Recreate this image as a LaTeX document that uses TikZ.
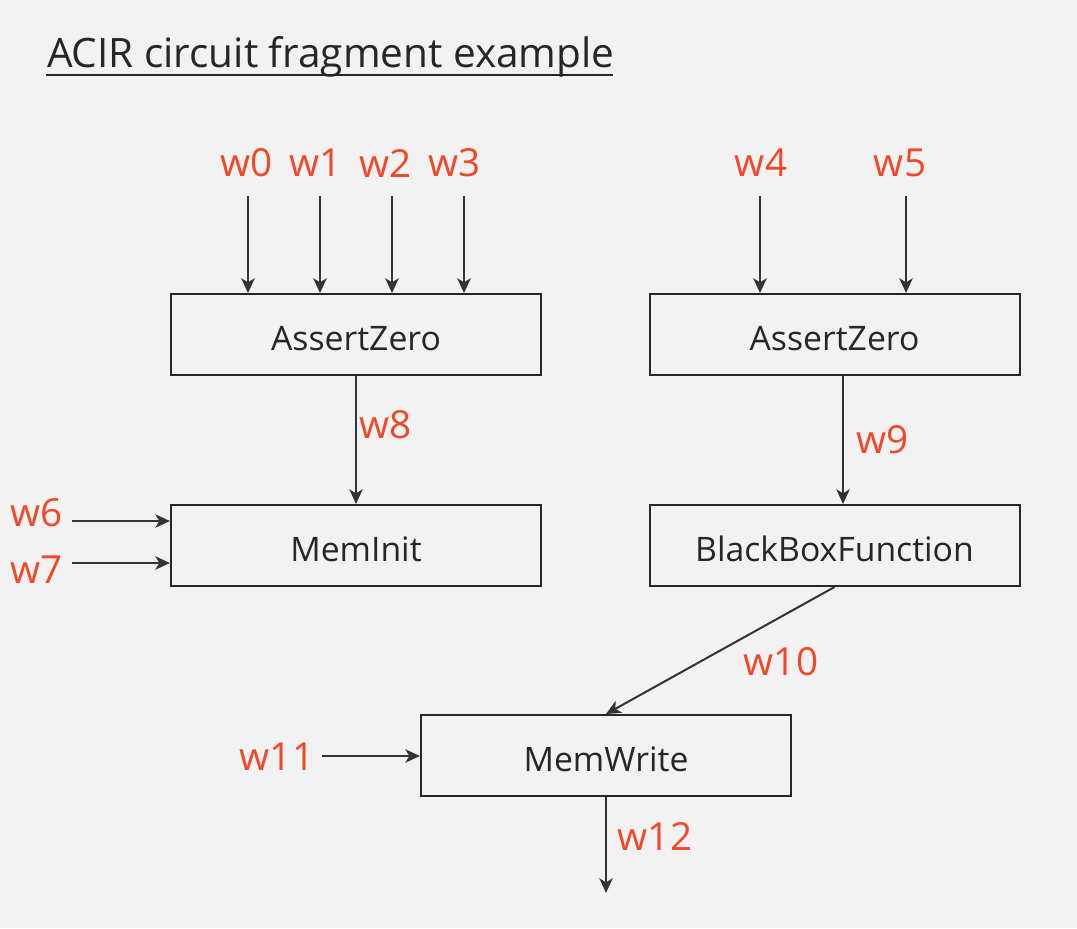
\documentclass[tikz,border=0pt]{standalone}
\usepackage{fontspec}
\setmainfont{Open Sans}
\usetikzlibrary{arrows.meta}
\definecolor{bgcol}{RGB}{242,242,242}
\definecolor{wirecol}{RGB}{240,72,40}
\definecolor{linecol}{RGB}{51,51,51}
\tikzset{every picture/.style={line width=1.5pt}}
\tikzset{
  gatebox/.style={draw=black!85, line width=1.5pt, minimum width=277.5pt, minimum height=60.75pt, inner sep=0pt, text height=24pt, text depth=0pt, font=\fontsize{25.3}{29}\selectfont, text=black!85},
  wirelabel/.style={text=wirecol, inner sep=0.75pt, font=\fontsize{29}{33}\selectfont},
  wire/.style={draw=linecol, line width=1.5pt, -{Stealth[length=11pt,width=10pt,inset=3pt]}}
}

\begin{document}
\begin{tikzpicture}[x=0.75pt,y=0.75pt,yscale=-1,xscale=1]
        % background and page size
        \fill[bgcol] (0,0) rectangle (1077,928);
        \useasboundingbox (0,0) rectangle (1077,928);

        % title
        \node (title) [anchor=base west, inner sep=0pt, font=\fontsize{30.4}{34}\selectfont, text=black!85] at (46,67) {ACIR circuit fragment example};
        \draw [black!85, line width=1.5pt] (46,75) -- (613,75);

        % gates
        \node (az1) [gatebox] at (356,334.5) {AssertZero};
        \node (az2) [gatebox] at (834.5,334.5) {AssertZero};
        \node (init) [gatebox] at (356,545.5) {MemInit};
        \node (bbf) [gatebox] at (834.5,545.5) {BlackBoxFunction};
        \node (write) [gatebox] at (606,755.5) {MemWrite};

        % inputs of the first AssertZero
        \node (w0) [wirelabel] at (247,163) {w0};
        \node (w1) [wirelabel] at (316,163) {w1};
        \node (w2) [wirelabel] at (386,163) {w2};
        \node (w3) [wirelabel] at (455,163) {w3};
        \coordinate (w0s) at (248,196);
        \coordinate (w1s) at (320,196);
        \coordinate (w2s) at (392,196);
        \coordinate (w3s) at (464,196);
        \draw [wire] (w0s) -- (w0s |- az1.north);
        \draw [wire] (w1s) -- (w1s |- az1.north);
        \draw [wire] (w2s) -- (w2s |- az1.north);
        \draw [wire] (w3s) -- (w3s |- az1.north);

        % inputs of the second AssertZero
        \node (w4) [wirelabel] at (761,163) {w4};
        \node (w5) [wirelabel] at (900,163) {w5};
        \coordinate (w4s) at (760,196);
        \coordinate (w5s) at (906,196);
        \draw [wire] (w4s) -- (w4s |- az2.north);
        \draw [wire] (w5s) -- (w5s |- az2.north);

        % AssertZero -> MemInit
        \draw [wire] (az1.south) -- (init.north);
        \node (w8) [wirelabel, anchor=west] at (357,425) {w8};

        % AssertZero -> BlackBoxFunction
        \coordinate (w9s) at (843,375);
        \draw [wire] (w9s |- az2.south) -- (w9s |- bbf.north);
        \node (w9) [wirelabel, anchor=west] at (854,440) {w9};

        % MemInit inputs
        \node (w6) [wirelabel] at (37,513) {w6};
        \node (w7) [wirelabel] at (37,570) {w7};
        \coordinate (w6s) at (72,521);
        \coordinate (w7s) at (72,563);
        \draw [wire] (w6s) -- (w6s -| init.west);
        \draw [wire] (w7s) -- (w7s -| init.west);

        % BlackBoxFunction -> MemWrite
        \draw [wire] (bbf.south) -- (write.north);
        \node (w10) [wirelabel] at (781,662) {w10};

        % MemWrite input and output
        \node (w11) [wirelabel] at (277,757) {w11};
        \coordinate (w11s) at (322,756);
        \draw [wire] (w11s) -- (w11s -| write.west);
        \coordinate (w12e) at (606,893);
        \draw [wire] (write.south) -- (w12e);
        \node (w12) [wirelabel] at (655,836) {w12};

\end{tikzpicture}
\end{document}
